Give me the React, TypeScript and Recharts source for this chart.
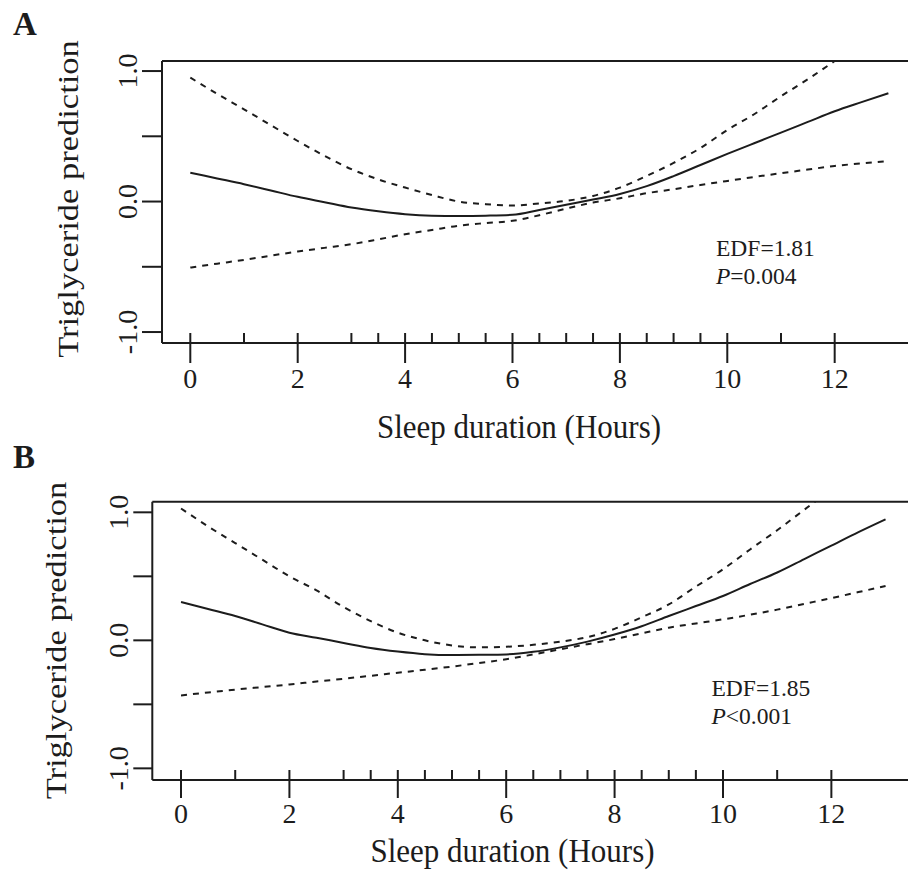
import React from 'react';
import { ComposedChart, Line, XAxis, YAxis, ReferenceLine } from 'recharts';

const hours = [0, 0.5, 1, 1.5, 2, 2.5, 3, 3.5, 4, 4.5, 5, 5.5, 6, 6.5, 7, 7.5, 8, 8.5, 9, 9.5, 10, 10.5, 11, 11.5, 12, 12.5, 13];

const fitA = [0.221, 0.177, 0.133, 0.085, 0.036, -0.005, -0.046, -0.075, -0.097, -0.108, -0.11, -0.108, -0.102, -0.065, -0.025, 0.015, 0.058, 0.118, 0.195, 0.28, 0.365, 0.447, 0.528, 0.61, 0.692, 0.762, 0.83];
const upperA = [0.95, 0.825, 0.707, 0.585, 0.464, 0.35, 0.248, 0.17, 0.107, 0.05, 0.0, -0.02, -0.03, -0.015, 0.005, 0.043, 0.107, 0.196, 0.296, 0.41, 0.548, 0.669, 0.807, 0.937, 1.077, 1.22, 1.37];
const lowerA = [-0.506, -0.476, -0.447, -0.415, -0.383, -0.355, -0.327, -0.29, -0.25, -0.218, -0.185, -0.165, -0.148, -0.105, -0.054, -0.008, 0.025, 0.064, 0.094, 0.127, 0.158, 0.188, 0.217, 0.245, 0.273, 0.292, 0.311];

const fitB = [0.30, 0.245, 0.19, 0.125, 0.06, 0.02, -0.02, -0.06, -0.088, -0.108, -0.115, -0.113, -0.11, -0.09, -0.055, -0.01, 0.045, 0.11, 0.19, 0.268, 0.346, 0.44, 0.53, 0.635, 0.74, 0.845, 0.945];
const upperB = [1.03, 0.89, 0.76, 0.63, 0.50, 0.39, 0.26, 0.15, 0.06, 0.0, -0.04, -0.055, -0.05, -0.035, -0.01, 0.025, 0.09, 0.18, 0.28, 0.42, 0.555, 0.71, 0.86, 1.02, 1.18, 1.35, 1.52];
const lowerB = [-0.43, -0.407, -0.385, -0.365, -0.345, -0.322, -0.30, -0.277, -0.253, -0.23, -0.205, -0.177, -0.148, -0.11, -0.07, -0.03, 0.01, 0.055, 0.099, 0.132, 0.164, 0.2, 0.24, 0.285, 0.33, 0.377, 0.424];

const rugHours = [0, 1, 2, 3, 3.5, 4, 4.5, 5, 5.5, 6, 6.5, 7, 7.5, 8, 8.5, 9, 9.5, 10, 11, 12];
const xTicks = [0, 2, 4, 6, 8, 10, 12];
const yTicks = [-1, -0.5, 0, 0.5, 1];
const yLabelled = [-1, 0, 1];

const FONT = '"Liberation Serif", "Times New Roman", serif';
const INK = '#1c1c1c';

function buildRows(fit: number[], upper: number[], lower: number[]) {
  return hours.map((h, i) => ({ x: h, fit: fit[i], upper: upper[i], lower: lower[i] }));
}

const XTick = (props: any) => {
  const { x, y, payload } = props;
  return (
    <text x={x} y={y} dy="0.71em" textAnchor="middle" fontFamily={FONT} fontSize={28} fill={INK}>
      {String(payload.value)}
    </text>
  );
};

const YTick = (props: any) => {
  const { x, y, payload } = props;
  const v = payload.value;
  if (!yLabelled.includes(v)) return <g />;
  return (
    <text
      transform={`translate(${x},${y}) rotate(-90)`}
      textAnchor="middle"
      fontFamily={FONT}
      fontSize={28}
      fill={INK}
    >
      {v.toFixed(1)}
    </text>
  );
};

// rug mark: short stroke rising from the bottom of the plot area
const RugMark = (props: any) => {
  const { x1, y1, y2 } = props;
  const bottom = Math.max(Number(y1), Number(y2));
  return <line x1={x1} x2={x1} y1={bottom} y2={bottom - 10} stroke={INK} strokeWidth={2} />;
};

type PanelProps = {
  top: number;
  fit: number[];
  upper: number[];
  lower: number[];
  marginTop: number;
  yAxisWidth: number;
  xDomain: [number, number];
  yDomain: [number, number];
  tickSize: number;
  yTickSize: number;
};

function Panel(p: PanelProps) {
  const rows = buildRows(p.fit, p.upper, p.lower);
  const axisStyle = { stroke: INK, strokeWidth: 2 };
  return (
    <div style={{ position: 'absolute', left: 0, top: p.top }}>
      <ComposedChart
        width={930}
        height={437}
        data={rows}
        margin={{ top: p.marginTop, right: 0, bottom: 0, left: 0 }}
      >
        <XAxis
          type="number"
          dataKey="x"
          domain={p.xDomain}
          allowDataOverflow
          ticks={xTicks}
          tick={<XTick />}
          tickSize={p.tickSize}
          tickMargin={5}
          height={94}
          axisLine={axisStyle}
          tickLine={axisStyle}
          interval={0}
        />
        <YAxis
          type="number"
          domain={p.yDomain}
          allowDataOverflow
          ticks={yTicks}
          tick={<YTick />}
          tickSize={p.yTickSize}
          tickMargin={5}
          width={p.yAxisWidth}
          axisLine={axisStyle}
          tickLine={axisStyle}
          interval={0}
        />
        <ReferenceLine y={p.yDomain[1]} stroke={INK} strokeWidth={2} />
        {rugHours.map((h) => (
          <ReferenceLine key={h} x={h} shape={RugMark} />
        ))}
        <Line
          type="monotone"
          dataKey="upper"
          stroke={INK}
          strokeWidth={2}
          strokeDasharray="6 6"
          dot={false}
          isAnimationActive={false}
        />
        <Line
          type="monotone"
          dataKey="lower"
          stroke={INK}
          strokeWidth={2}
          strokeDasharray="6 6"
          dot={false}
          isAnimationActive={false}
        />
        <Line
          type="monotone"
          dataKey="fit"
          stroke={INK}
          strokeWidth={2}
          dot={false}
          isAnimationActive={false}
        />
      </ComposedChart>
    </div>
  );
}

export default function App() {
  return (
    <div
      style={{
        position: 'absolute',
        left: 0,
        top: 0,
        width: 908,
        height: 874,
        overflow: 'hidden',
        background: '#fff',
      }}
    >
      <Panel
        top={0}
        fit={fitA}
        upper={upperA}
        lower={lowerA}
        marginTop={61}
        yAxisWidth={162}
        xDomain={[-0.527, 13.775]}
        yDomain={[-1.084, 1.077]}
        tickSize={20}
        yTickSize={20}
      />
      <Panel
        top={437}
        fit={fitB}
        upper={upperB}
        lower={lowerB}
        marginTop={64.7}
        yAxisWidth={152.3}
        xDomain={[-0.53, 13.82]}
        yDomain={[-1.091, 1.083]}
        tickSize={18}
        yTickSize={19}
      />
      <svg
        width={908}
        height={874}
        style={{ position: 'absolute', left: 0, top: 0, pointerEvents: 'none' }}
        fontFamily={FONT}
        fill={INK}
      >
        <text x={13} y={35} fontSize={33} fontWeight="bold">A</text>
        <text x={13} y={468} fontSize={33} fontWeight="bold">B</text>

        <text transform="translate(77.5,199) rotate(-90) scale(1.15,1)" textAnchor="middle" fontSize={30}>
          Triglyceride prediction
        </text>
        <text transform="translate(65.5,640.5) rotate(-90) scale(1.15,1)" textAnchor="middle" fontSize={30}>
          Triglyceride prediction
        </text>

        <text transform="translate(519,438) scale(1,1.1)" textAnchor="middle" fontSize={31}>
          Sleep duration (Hours)
        </text>
        <text transform="translate(512.5,861.5) scale(1,1.1)" textAnchor="middle" fontSize={31}>
          Sleep duration (Hours)
        </text>

        <text x={716} y={256} fontSize={23.5}>EDF=1.81</text>
        <text x={716} y={283.5} fontSize={23.5}>
          <tspan fontStyle="italic">P</tspan>=0.004
        </text>
        <text x={711.5} y={696} fontSize={23.5}>EDF=1.85</text>
        <text x={711.5} y={723.5} fontSize={23.5}>
          <tspan fontStyle="italic">P</tspan>&lt;0.001
        </text>
      </svg>
    </div>
  );
}
